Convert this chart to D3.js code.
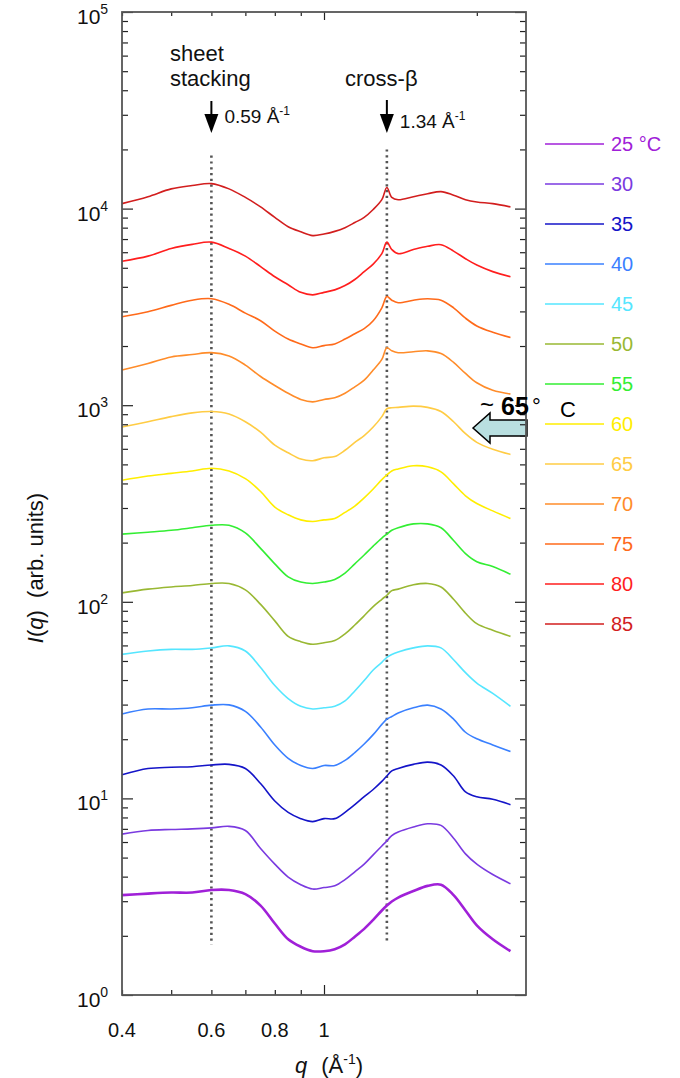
<!DOCTYPE html>
<html>
<head>
<meta charset="utf-8">
<script src="https://cdn.jsdelivr.net/npm/d3@7"></script>
<style>
  body { margin: 0; background: #fff; }
  svg { display: block; font-family: "Liberation Sans", Arial, sans-serif; }
</style>
</head>
<body>
<div id="chart"></div>
<script>
// scattering vector q (1/A), shared by every curve
var qValues = [0.40, 0.45, 0.50, 0.55, 0.60, 0.65, 0.70, 0.75, 0.80, 0.85, 0.90, 0.95, 1.00,
               1.05, 1.10, 1.15, 1.20, 1.25, 1.30, 1.33, 1.36, 1.40, 1.50, 1.60, 1.70, 1.80,
               1.90, 2.00, 2.15, 2.33];

// intensities (offset curves), one per temperature
var i25 = [3.22, 3.28, 3.32, 3.32, 3.42, 3.42, 3.26, 2.85, 2.31, 1.92, 1.76, 1.67, 1.67, 1.71, 1.81,
           1.98, 2.17, 2.41, 2.69, 2.85, 2.99, 3.13, 3.38, 3.59, 3.64, 3.22, 2.69, 2.26, 1.92, 1.67];
var i30 = [6.58, 6.87, 6.95, 7.00, 7.08, 7.21, 6.87, 5.56, 4.63, 3.98, 3.64, 3.46, 3.52, 3.59, 3.86,
           4.23, 4.63, 5.16, 5.73, 6.08, 6.47, 6.75, 7.16, 7.43, 7.29, 6.27, 5.22, 4.63, 4.10, 3.68];
var i35 = [13.2, 14.2, 14.4, 14.5, 14.8, 14.9, 14.2, 11.9, 9.70, 8.49, 7.89, 7.62, 7.89, 7.89, 8.49,
           9.29, 10.2, 11.1, 12.2, 13.0, 13.8, 14.2, 14.9, 15.3, 14.8, 13.0, 10.8, 10.2, 9.89, 9.29];
var i40 = [26.9, 28.5, 28.5, 28.9, 29.8, 29.9, 27.7, 23.1, 18.7, 16.0, 14.7, 14.2, 14.7, 14.7, 15.6,
           17.1, 18.9, 21.1, 23.8, 25.3, 26.1, 27.2, 28.9, 29.8, 28.5, 25.3, 21.7, 20.1, 18.7, 17.3];
var i45 = [54.0, 56.2, 57.3, 57.3, 58.3, 59.7, 56.2, 46.3, 37.5, 32.2, 29.4, 28.5, 28.9, 29.4, 31.3,
           35.2, 39.8, 45.0, 49.2, 52.2, 54.0, 55.6, 58.3, 59.7, 58.3, 50.7, 43.6, 38.6, 34.2, 29.4];
var i50 = [111, 116, 119, 121, 124, 124, 115, 97.0, 80.0, 66.7, 62.7, 60.8, 61.9, 63.5, 68.7,
           76.2, 84.9, 94.6, 103, 108, 114, 116, 122, 124, 119, 103, 87.5, 77.4, 71.6, 66.7];
var i55 = [221, 226, 231, 238, 245, 245, 224, 187, 156, 134, 126, 124, 126, 130, 140,
           156, 173, 192, 211, 221, 231, 238, 249, 249, 238, 205, 176, 160, 151, 138];
var i60 = [415, 436, 450, 463, 478, 463, 423, 364, 303, 277, 261, 256, 261, 265, 285,
           307, 338, 375, 418, 442, 463, 474, 492, 486, 458, 398, 346, 316, 290, 265];
var i65 = [774, 824, 875, 914, 929, 902, 824, 729, 627, 573, 532, 522, 540, 548, 590,
           647, 700, 774, 875, 959, 971, 975, 989, 975, 929, 824, 716, 647, 597, 562];
var i70 = [1510, 1630, 1760, 1810, 1850, 1780, 1600, 1400, 1260, 1150, 1070, 1040, 1070, 1090, 1150,
           1240, 1340, 1510, 1710, 1960, 1890, 1850, 1870, 1890, 1830, 1650, 1450, 1300, 1190, 1140];
var i75 = [2820, 2990, 3220, 3420, 3480, 3260, 2940, 2690, 2380, 2170, 2050, 1960, 2010, 2050, 2170,
           2310, 2450, 2690, 3130, 3570, 3420, 3320, 3420, 3480, 3420, 3130, 2770, 2530, 2350, 2210];
var i80 = [5400, 5730, 6270, 6580, 6750, 6270, 5730, 5070, 4500, 4100, 3750, 3640, 3750, 3860, 4060,
           4360, 4780, 5220, 5900, 6750, 6190, 5900, 6190, 6430, 6550, 6080, 5560, 5160, 4780, 4500];
var i85 = [10600, 11500, 12600, 13100, 13400, 12600, 11400, 10200, 9020, 8090, 7620, 7290, 7430, 7660, 8000,
           8490, 9020, 9890, 11100, 12800, 11400, 11100, 11500, 11900, 12200, 11700, 11100, 10800, 10600, 10200];

var temps = [25, 30, 35, 40, 45, 50, 55, 60, 65, 70, 75, 80, 85];
var series = [i25, i30, i35, i40, i45, i50, i55, i60, i65, i70, i75, i80, i85];
var colors = ["#a020d8", "#7a3ae0", "#1414c8", "#3a80ff", "#55e6ff", "#99b833", "#33ee33",
              "#ffee00", "#ffcc44", "#ff8c2a", "#ff6a1a", "#ff1e1e", "#d21e1e"];

var xTickLabels = [0.4, 0.6, 0.8, 1];
var yDecades = [0, 1, 2, 3, 4, 5];

// peak markers: where the dotted line sits, what the label says, its vertical span
var markerQ = [0.6, 1.33];
var markerText = ["0.59", "1.34"];
var markerTop = [1.86e4, 2.0e4];
var markerBottom = [1.8, 1.88];

var width = 680, height = 1078;
var x = d3.scaleLog().domain([0.4, 2.5]).range([122, 526]);
var y = d3.scaleLog().domain([1, 1e5]).range([995, 12]);

var svg = d3.select("#chart").append("svg")
    .attr("width", width)
    .attr("height", height);

// dotted peak lines
svg.selectAll(".marker")
    .data(markerQ)
  .enter().append("line")
    .attr("x1", function(d) { return x(d); })
    .attr("x2", function(d) { return x(d); })
    .attr("y1", function(d, i) { return y(markerTop[i]); })
    .attr("y2", function(d, i) { return y(markerBottom[i]); })
    .attr("stroke", "#555")
    .attr("stroke-width", 2.6)
    .attr("stroke-dasharray", "2.2,3.6");

// curves
var line = d3.line()
    .x(function(d) { return x(d[0]); })
    .y(function(d) { return y(d[1]); })
    .curve(d3.curveCatmullRom.alpha(0.5));

svg.selectAll(".curve")
    .data(series)
  .enter().append("path")
    .attr("class", "curve")
    .attr("fill", "none")
    .attr("stroke", function(d, i) { return colors[i]; })
    .attr("stroke-width", function(d, i) { return i === 0 ? 2.6 : 1.6; })
    .attr("stroke-linejoin", "round")
    .attr("d", function(vals) {
      return line(qValues.map(function(q, k) { return [q, vals[k]]; }));
    });

// big arrow (~65 C)
svg.append("path")
    .attr("d", "M473,428 L490,413 L490,420 L527,420 L527,436 L490,436 L490,443 Z")
    .attr("fill", "#b9dfe0")
    .attr("stroke", "#000")
    .attr("stroke-width", 1.5);

// axes: ticks point inward on all four sides
var yMinor = y.ticks().filter(function(d) { return Math.abs(Math.log10(d) % 1) > 1e-6; });
var yMajor = yDecades.map(function(e) { return Math.pow(10, e); });
var xAll = x.ticks();
var xMinor = xAll.filter(function(d) { return d !== 1; });

function styleAxis(g) {
  g.select(".domain").remove();
  g.selectAll(".tick line").attr("stroke", "#222").attr("stroke-width", 1.2);
  g.selectAll(".tick text").remove();
}

svg.append("g").attr("transform", "translate(122,0)")
    .call(d3.axisLeft(y).tickValues(yMajor).tickSize(-11)).call(styleAxis);
svg.append("g").attr("transform", "translate(122,0)")
    .call(d3.axisLeft(y).tickValues(yMinor).tickSize(-6)).call(styleAxis);
svg.append("g").attr("transform", "translate(526,0)")
    .call(d3.axisRight(y).tickValues(yMajor).tickSize(-11)).call(styleAxis);
svg.append("g").attr("transform", "translate(526,0)")
    .call(d3.axisRight(y).tickValues(yMinor).tickSize(-6)).call(styleAxis);
svg.append("g").attr("transform", "translate(0,995)")
    .call(d3.axisBottom(x).tickValues([1]).tickSize(-10)).call(styleAxis);
svg.append("g").attr("transform", "translate(0,995)")
    .call(d3.axisBottom(x).tickValues(xMinor).tickSize(-5)).call(styleAxis);
svg.append("g").attr("transform", "translate(0,12)")
    .call(d3.axisTop(x).tickValues([1]).tickSize(-8)).call(styleAxis);
svg.append("g").attr("transform", "translate(0,12)")
    .call(d3.axisTop(x).tickValues(xMinor).tickSize(-4)).call(styleAxis);

// frame
svg.append("rect")
    .attr("x", 122).attr("y", 12)
    .attr("width", 404).attr("height", 983)
    .attr("fill", "none")
    .attr("stroke", "#555")
    .attr("stroke-width", 1.8);

// y tick labels 10^n
var yl = svg.selectAll(".ylab")
    .data(yDecades)
  .enter().append("text")
    .attr("x", 77)
    .attr("y", function(d) { return y(Math.pow(10, d)) + 12; })
    .attr("font-size", 21)
    .attr("fill", "#111");
yl.append("tspan").text("10");
yl.append("tspan").attr("dy", -10).attr("font-size", 14).text(function(d) { return d; });

// x tick labels
svg.selectAll(".xlab")
    .data(xTickLabels)
  .enter().append("text")
    .attr("x", function(d) { return x(d); })
    .attr("y", 1037)
    .attr("text-anchor", "middle")
    .attr("font-size", 20)
    .attr("fill", "#111")
    .text(function(d) { return d; });

// axis titles
var xt = svg.append("text")
    .attr("x", 295).attr("y", 1073)
    .attr("font-size", 22).attr("fill", "#111");
xt.append("tspan").attr("font-style", "italic").text("q");
xt.append("tspan").attr("dx", 14).text("(\u00c5");
xt.append("tspan").attr("dy", -9).attr("font-size", 14).text("-1");
xt.append("tspan").attr("dy", 9).text(")");

var yt = svg.append("text")
    .attr("transform", "translate(43,568) rotate(-90)")
    .attr("text-anchor", "middle")
    .attr("font-size", 22).attr("fill", "#111");
yt.append("tspan").attr("font-style", "italic").text("I");
yt.append("tspan").text("(");
yt.append("tspan").attr("font-style", "italic").text("q");
yt.append("tspan").text(")\u00a0\u00a0(arb. units)");

// peak annotations
svg.append("text").attr("x", 170).attr("y", 61).attr("font-size", 22).attr("fill", "#111").text("sheet");
svg.append("text").attr("x", 170).attr("y", 86).attr("font-size", 22).attr("fill", "#111").text("stacking");
svg.append("text").attr("x", 345).attr("y", 86).attr("font-size", 22).attr("fill", "#111").text("cross-\u03b2");

var arrowTops = [101, 100];
var textY = [123, 128];
markerQ.forEach(function(q, i) {
  var cx = x(q);
  svg.append("line")
      .attr("x1", cx).attr("x2", cx)
      .attr("y1", arrowTops[i]).attr("y2", 120)
      .attr("stroke", "#000").attr("stroke-width", 2);
  svg.append("path")
      .attr("d", "M" + (cx - 7) + ",114 L" + (cx + 7) + ",114 L" + cx + ",133 Z")
      .attr("fill", "#000");
  var t = svg.append("text")
      .attr("x", cx + 13).attr("y", textY[i])
      .attr("font-size", 19).attr("fill", "#111");
  t.append("tspan").text(markerText[i] + " \u00c5");
  t.append("tspan").attr("dy", -8).attr("font-size", 12).text("-1");
});

// ~65 C label
svg.append("text").attr("x", 480).attr("y", 413).attr("font-size", 24).attr("fill", "#000").text("~");
svg.append("text").attr("x", 501).attr("y", 415).attr("font-size", 25).attr("font-weight", "bold").attr("fill", "#000").text("65");
svg.append("text").attr("x", 532).attr("y", 414).attr("font-size", 22).attr("fill", "#000").text("\u00b0");
svg.append("text").attr("x", 560).attr("y", 417).attr("font-size", 22).attr("fill", "#000").text("C");

// legend
var leg = svg.selectAll(".leg")
    .data(temps)
  .enter().append("g")
    .attr("transform", function(d, i) { return "translate(0," + (144 + 40 * i) + ")"; });
leg.append("line")
    .attr("x1", 545).attr("x2", 604)
    .attr("stroke", function(d, i) { return colors[i]; })
    .attr("stroke-width", 1.5);
leg.append("text")
    .attr("x", 611).attr("dy", "0.36em")
    .attr("font-size", 20)
    .attr("fill", function(d, i) { return colors[i]; })
    .text(function(d, i) { return i === 0 ? d + " \u00b0C" : d; });
</script>
</body>
</html>
